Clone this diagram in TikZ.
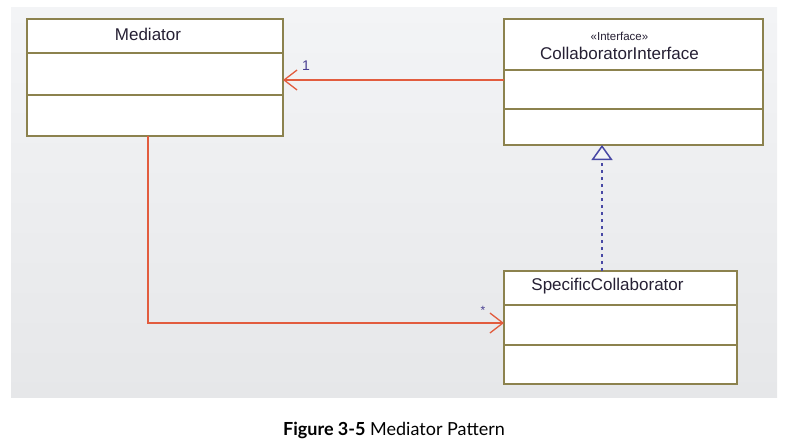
\documentclass[tikz,border=0pt]{standalone}
\usepackage{fontspec}
\setmainfont{Liberation Sans}
\newfontfamily\capfont{Lato}
\usetikzlibrary{positioning,arrows.meta}
\definecolor{boxline}{RGB}{140,130,78}
\definecolor{assocred}{RGB}{226,92,62}
\definecolor{realblue}{RGB}{72,72,165}
\definecolor{multblue}{RGB}{72,62,145}
\definecolor{nameink}{RGB}{38,32,52}
\definecolor{paneltop}{RGB}{243,244,246}
\definecolor{panelbot}{RGB}{230,231,233}

\begin{document}
\begin{tikzpicture}[x=1pt,y=-1pt,
  part/.style={draw=boxline,fill=white,line width=1.6pt,inner sep=0pt,outer sep=0pt},
  nametext/.style={text=nameink,font=\fontsize{17}{19}\selectfont},
  assoc/.style={draw=assocred,line width=1.4pt,-{Straight Barb[length=13pt,width=20pt,line width=1.3pt]}},
  realize/.style={draw=realblue,line width=1.6pt,dash pattern=on 3pt off 4pt,
    -{Triangle[open,length=15pt,width=21pt,line width=1.5pt,fill=paneltop]}},
  mult/.style={text=multblue,inner sep=0pt}]
\useasboundingbox (0,0) rectangle (795,444);
% panel
\shade[top color=paneltop,bottom color=panelbot] (11,8) rectangle (777,397);
% Mediator
\node[part,minimum width=256pt,minimum height=34pt,anchor=north west,
      label={[nametext,xshift=-7pt,yshift=2pt]center:Mediator}] (medName) at (27,19) {};
\node[part,minimum width=256pt,minimum height=42pt,below=0pt of medName] (medAttr) {};
\node[part,minimum width=256pt,minimum height=41pt,below=0pt of medAttr] (medOps) {};
% CollaboratorInterface
\node[part,minimum width=259pt,minimum height=51pt,anchor=north west,
      label={[nametext,align=center,xshift=-14pt,yshift=-1pt]center:{\fontsize{11.5}{13}\selectfont\guillemotleft Interface\guillemotright}\\[0pt]CollaboratorInterface}] (collName) at (504,19) {};
\node[part,minimum width=259pt,minimum height=39pt,below=0pt of collName] (collAttr) {};
\node[part,minimum width=259pt,minimum height=36pt,below=0pt of collAttr] (collOps) {};
% SpecificCollaborator
\node[part,minimum width=233pt,minimum height=34pt,anchor=north west,
      label={[nametext,xshift=-13pt,yshift=2pt]center:SpecificCollaborator}] (specName) at (504,271) {};
\node[part,minimum width=233pt,minimum height=40pt,below=0pt of specName] (specAttr) {};
\node[part,minimum width=233pt,minimum height=39pt,below=0pt of specAttr] (specOps) {};
% links
\draw[assoc,line width=2.6pt] ([yshift=-10pt]collAttr.north west) coordinate (oneEnd) -- (oneEnd -| medAttr.east);
\node[mult,font=\fontsize{14}{15}\selectfont] (oneMult) at (306,66) {1};
\draw[assoc] ([xshift=-7pt]medOps.south) |- ([yshift=-18pt]specAttr.north west);
\node[mult,font=\fontsize{12}{13}\selectfont] (manyMult) at (483,310) {*};
\draw[realize] ([xshift=-18.5pt]specName.north) coordinate (realStart) -- (realStart |- collOps.south);
% caption
\node[font=\capfont\fontsize{18}{20}\selectfont,text=black] (caption) at (394,430) {\textbf{Figure 3-5} Mediator Pattern};
\end{tikzpicture}
\end{document}
